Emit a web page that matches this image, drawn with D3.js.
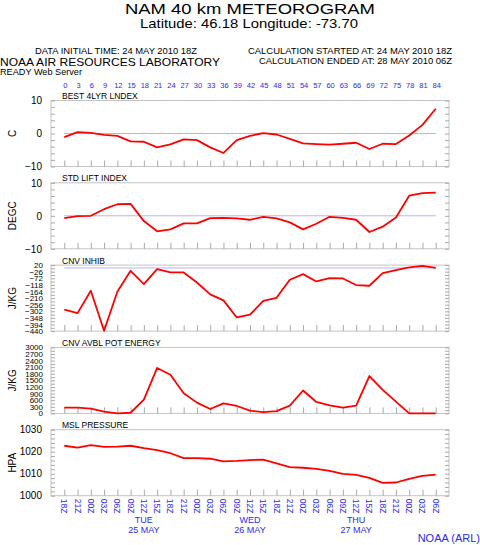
<!DOCTYPE html>
<html>
<head>
<meta charset="utf-8">
<script src="https://cdn.jsdelivr.net/npm/d3@7"></script>
<style>
  html, body { margin: 0; padding: 0; background: #fff; }
  svg { display: block; font-family: "Liberation Sans", Arial, Helvetica, sans-serif; }
</style>
</head>
<body>
<svg id="chart" width="480" height="545"></svg>
<script>
// ---------------- DATA ----------------
const hours = [0,3,6,9,12,15,18,21,24,27,30,33,36,39,42,45,48,51,54,57,60,63,66,69,72,75,78,81,84];
const timeLabels = ["18Z","21Z","00Z","03Z","06Z","09Z","12Z","15Z","18Z","21Z","00Z","03Z","06Z","09Z",
                    "12Z","15Z","18Z","21Z","00Z","03Z","06Z","09Z","12Z","15Z","18Z","21Z","00Z","03Z","06Z"];
const dayNames = ["TUE","WED","THU"];
const dayDates = ["25 MAY","26 MAY","27 MAY"];
const dayHours = [18,42,66];

const bestLI = [-1.1,0.4,0.2,-0.4,-0.7,-2.4,-2.5,-4.2,-3.3,-1.8,-2.0,-4.2,-5.9,-2.0,-0.7,0.1,-0.3,-1.6,-3.0,-3.2,-3.4,-3.1,-2.8,-4.7,-3.1,-3.2,-0.6,2.6,7.5];
const stdLI = [-0.7,-0.1,0.0,2.0,3.5,3.6,-1.6,-4.7,-4.1,-2.3,-2.3,-0.7,-0.6,-0.8,-1.2,-0.3,-0.8,-2.0,-4.1,-2.4,-0.3,-0.6,-1.2,-4.9,-3.3,-0.5,6.1,6.9,7.0];
const cnvInhib = [-291,-315,-159,-438,-166,-20,-112,-8,-31,-31,-101,-184,-226,-345,-326,-229,-208,-82,-43,-94,-71,-73,-119,-124,-36,-15,4,15,1];
const cape = [260,260,214,77,5,30,628,2066,1760,918,490,199,459,337,122,61,107,352,1041,520,367,260,352,1699,1071,536,0,0,0];
const mslp = [1022.7,1021.9,1023.0,1022.2,1022.3,1022.7,1021.6,1020.7,1019.3,1017.1,1017.1,1016.8,1015.6,1015.8,1016.2,1016.4,1014.7,1013.0,1012.7,1012.2,1011.3,1009.9,1009.5,1008.1,1005.8,1006.0,1007.7,1009.0,1009.6];

const panelTitles = ["BEST 4LYR LNDEX","STD LIFT INDEX","CNV INHIB","CNV AVBL POT ENERGY","MSL PRESSURE"];
const panelUnits = ["C","DEGC","J/KG","J/KG","HPA"];
const panelSeries = [bestLI, stdLI, cnvInhib, cape, mslp];
const panelDomains = [[-10,10],[-10,10],[-440,20],[0,3000],[1000,1030]];
const tickLabels1 = [-10,0,10];
const tickLabels2 = [-10,0,10];
const tickLabels3 = [20,-26,-72,-118,-164,-210,-256,-302,-348,-394,-440];
const tickLabels4 = [0,300,600,900,1200,1500,1800,2100,2400,2700,3000];
const tickLabels5 = [1000,1010,1020,1030];
const panelTickLabels = [tickLabels1, tickLabels2, tickLabels3, tickLabels4, tickLabels5];
const panelMinorStep = [2, 2, 23, 150, 2];
const panelZeroLine = [true, true, true, false, false];

// ---------------- LAYOUT ----------------
const svg = d3.select("#chart");
const frameL = 51, frameR = 449;
const panelTop0 = 100.5, panelStep = 82.3, panelH = 66;
const blue = "#2a2af0";
const frameColor = "#c4c4c4";
const tickColor = "#a8a8a8";

const x = d3.scaleLinear().domain([-3, 87]).range([frameL, frameR]);

// ---------------- HEADER ----------------
svg.append("text").attr("x", 250).attr("y", 13.5).attr("text-anchor", "middle")
  .attr("font-size", 15.5).attr("textLength", 250).attr("lengthAdjust", "spacingAndGlyphs")
  .text("NAM 40 km METEOROGRAM");
svg.append("text").attr("x", 249).attr("y", 27.5).attr("text-anchor", "middle")
  .attr("font-size", 13.5).attr("textLength", 218).attr("lengthAdjust", "spacingAndGlyphs")
  .text("Latitude: 46.18 Longitude: -73.70");
svg.append("text").attr("x", 35).attr("y", 53.5).attr("font-size", 9)
  .attr("textLength", 162).attr("lengthAdjust", "spacingAndGlyphs")
  .text("DATA INITIAL TIME: 24 MAY 2010 18Z");
svg.append("text").attr("x", 0).attr("y", 66).attr("font-size", 11.5)
  .attr("textLength", 220).attr("lengthAdjust", "spacingAndGlyphs")
  .text("NOAA AIR RESOURCES LABORATORY");
svg.append("text").attr("x", 0).attr("y", 75).attr("font-size", 8.5)
  .attr("textLength", 82).attr("lengthAdjust", "spacingAndGlyphs")
  .text("READY Web Server");
svg.append("text").attr("x", 248).attr("y", 53.5).attr("font-size", 9)
  .attr("textLength", 204).attr("lengthAdjust", "spacingAndGlyphs")
  .text("CALCULATION STARTED AT: 24 MAY 2010 18Z");
svg.append("text").attr("x", 259).attr("y", 64).attr("font-size", 9)
  .attr("textLength", 193).attr("lengthAdjust", "spacingAndGlyphs")
  .text("CALCULATION ENDED AT: 28 MAY 2010 06Z");

// top hour labels
svg.append("g").selectAll("text").data(hours).join("text")
  .attr("x", d => x(d) + 1).attr("y", 87.5)
  .attr("text-anchor", "middle").attr("font-size", 7.5).attr("fill", blue)
  .text(d => d);

// ---------------- PANELS ----------------
panelSeries.forEach((series, i) => {
  const top = panelTop0 + i * panelStep;
  const bottom = top + panelH;
  const [lo, hi] = panelDomains[i];
  const y = d3.scaleLinear().domain([lo, hi]).range([bottom, top]);
  const g = svg.append("g");

  // frame
  g.append("rect").attr("x", frameL).attr("y", top)
    .attr("width", frameR - frameL).attr("height", panelH)
    .attr("fill", "none").attr("stroke", frameColor).attr("stroke-width", 1);

  // minor ticks inside left & right
  const minor = d3.range(lo, hi + 0.0001, panelMinorStep[i]);
  g.append("g").attr("transform", `translate(${frameL},0)`)
    .call(d3.axisLeft(y).tickValues(minor).tickSize(-4).tickFormat(""))
    .call(a => a.select(".domain").remove())
    .call(a => a.selectAll("line").attr("stroke", tickColor));
  g.append("g").attr("transform", `translate(${frameR},0)`)
    .call(d3.axisRight(y).tickValues(minor).tickSize(-4).tickFormat(""))
    .call(a => a.select(".domain").remove())
    .call(a => a.selectAll("line").attr("stroke", tickColor));

  // bottom ticks at each forecast hour
  g.append("g").attr("transform", `translate(0,${bottom})`)
    .call(d3.axisBottom(x).tickValues(hours).tickSize(-6).tickFormat(""))
    .call(a => a.select(".domain").remove())
    .call(a => a.selectAll("line").attr("stroke", tickColor));

  // y labels
  const dense = i === 2 || i === 3;
  g.append("g").attr("transform", `translate(${frameL},0)`)
    .call(d3.axisLeft(y).tickValues(panelTickLabels[i]).tickSize(0)
      .tickPadding(dense ? 8 : 9).tickFormat(d3.format("d")))
    .call(a => a.select(".domain").remove())
    .call(a => a.selectAll("text")
      .attr("font-family", "'Liberation Sans', Arial, sans-serif")
      .attr("font-size", dense ? 8 : 10)
      .attr("fill", "#000"));

  // zero line
  if (panelZeroLine[i]) {
    g.append("line")
      .attr("x1", x(0)).attr("x2", x(84))
      .attr("y1", y(0)).attr("y2", y(0))
      .attr("stroke", "#b4b4f4").attr("stroke-width", 1);
  }

  // panel title
  g.append("text").attr("x", 62).attr("y", top - 1.5)
    .attr("font-size", 8.5).text(panelTitles[i]);

  // unit label
  g.append("text")
    .attr("transform", `translate(16,${(top + bottom) / 2}) rotate(-90)`)
    .attr("text-anchor", "middle").attr("font-size", 10)
    .text(panelUnits[i]);

  // series line
  const line = d3.line().x((d, j) => x(hours[j])).y(d => y(d));
  g.append("path").datum(series)
    .attr("d", line)
    .attr("fill", "none").attr("stroke", "#ff0000").attr("stroke-width", 1.8)
    .attr("stroke-linejoin", "round");
});

// ---------------- BOTTOM AXIS ----------------
const lastBottom = panelTop0 + 4 * panelStep + panelH;
svg.append("g").selectAll("text").data(hours).join("text")
  .attr("transform", (d) => `translate(${x(d)},${lastBottom + 3}) rotate(90)`)
  .attr("dy", "0.35em")
  .attr("font-size", 8.5).attr("fill", blue)
  .text((d, j) => timeLabels[j]);

svg.append("g").selectAll("text").data(dayHours).join("text")
  .attr("x", d => x(d)).attr("y", 522.5).attr("text-anchor", "middle")
  .attr("font-size", 9).attr("fill", blue)
  .text((d, j) => dayNames[j]);
svg.append("g").selectAll("text").data(dayHours).join("text")
  .attr("x", d => x(d)).attr("y", 532.5).attr("text-anchor", "middle")
  .attr("font-size", 9).attr("fill", blue)
  .text((d, j) => dayDates[j]);

svg.append("text").attr("x", 480).attr("y", 541.5).attr("text-anchor", "end")
  .attr("font-size", 11).attr("fill", blue).text("NOAA (ARL)");
</script>
</body>
</html>
